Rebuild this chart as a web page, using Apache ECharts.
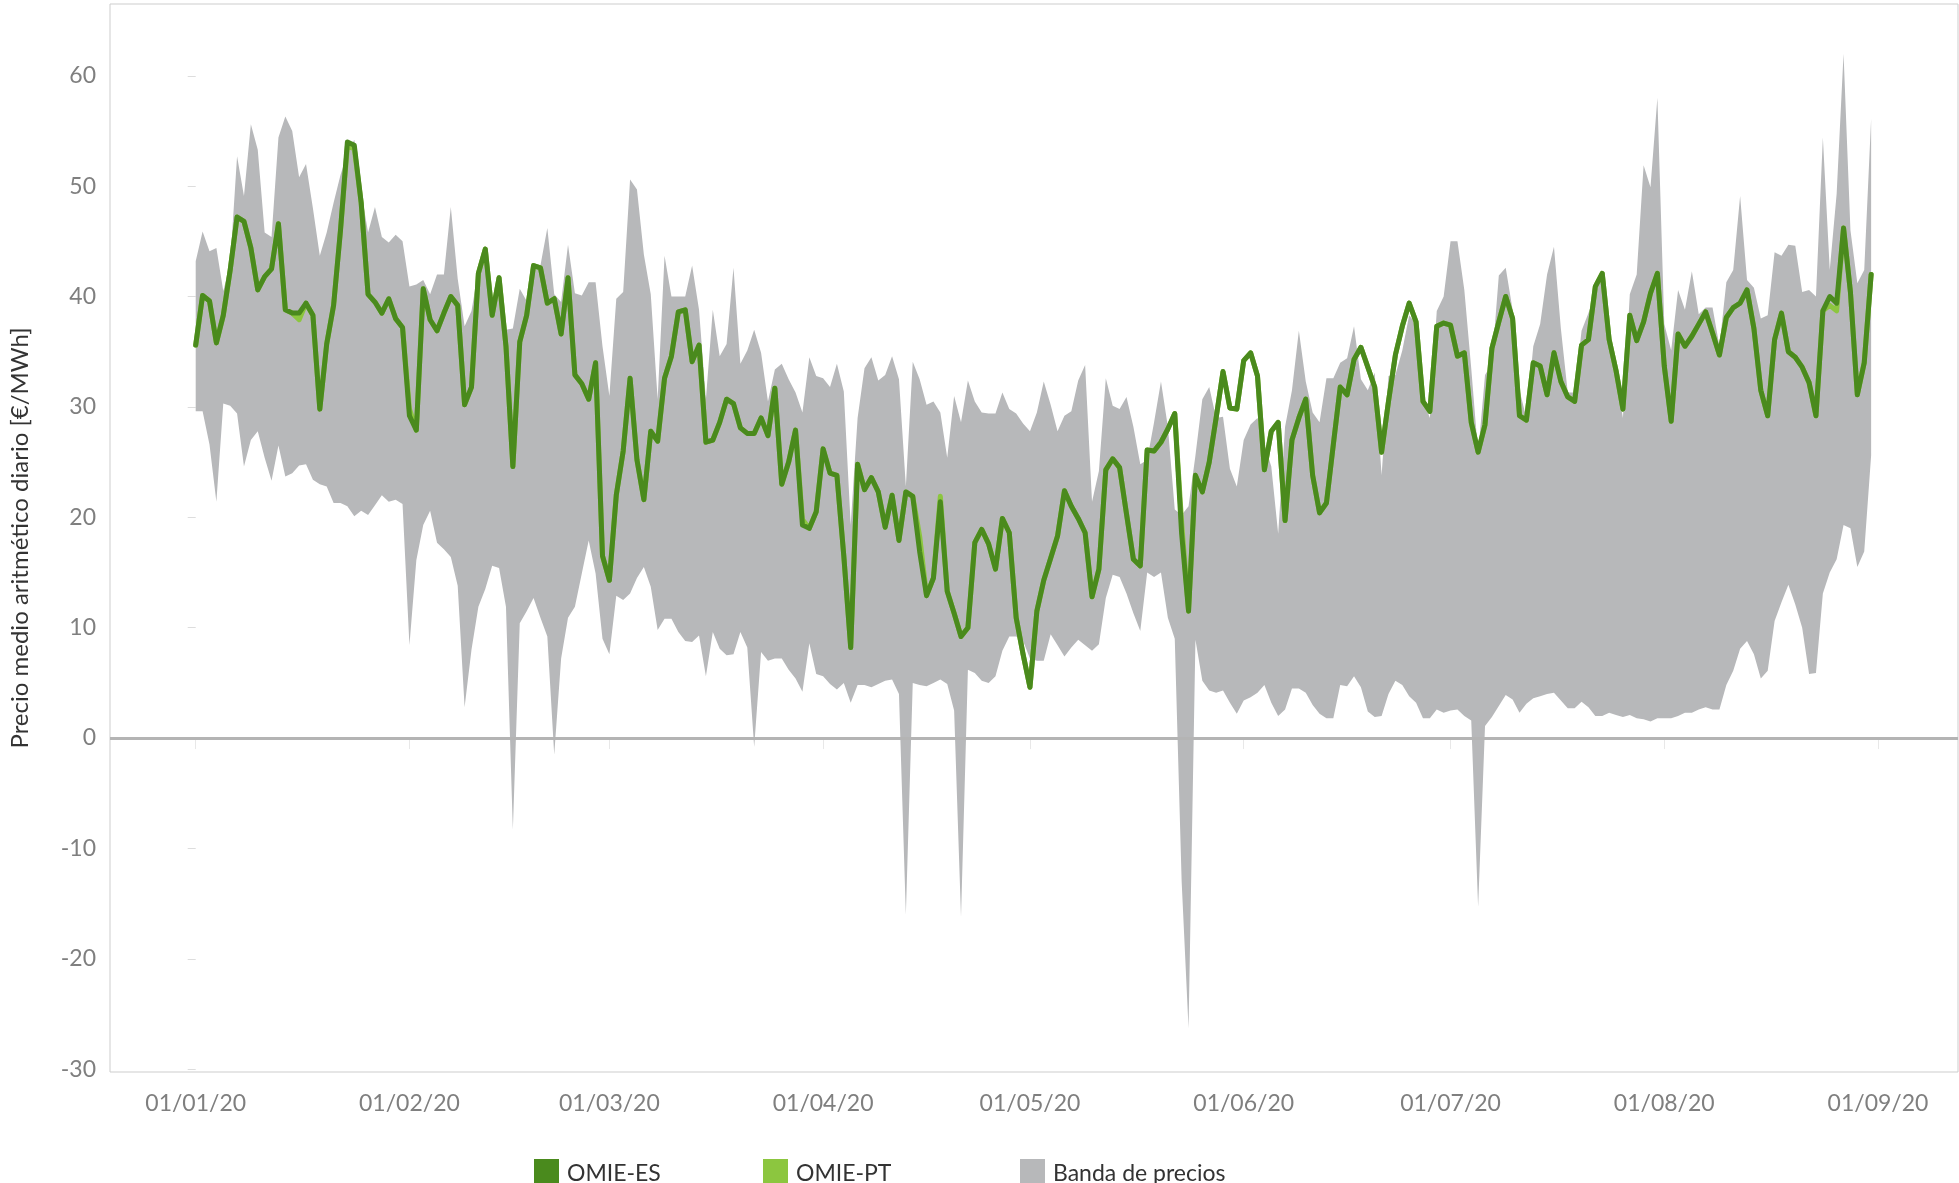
<!DOCTYPE html>
<html lang="es">
<head>
<meta charset="utf-8">
<title>Precio medio aritmético diario OMIE 2020</title>
<script src="https://cdn.jsdelivr.net/npm/echarts@6/dist/echarts.min.js"></script>
<style>
  html, body { margin: 0; padding: 0; background: #ffffff; }
  #chart { width: 1959px; height: 1183px; }
</style>
</head>
<body>
<div id="chart"></div>
<script>
// Daily values from 01/01/2020 (index 0) to 31/08/2020 (index 243), €/MWh

const omieES = [
  35.6, 40.1, 39.6, 35.8, 38.3, 42.4, 47.2, 46.8, 44.4, 40.6,
  41.8, 42.5, 46.6, 38.8, 38.5, 38.5, 39.4, 38.3, 29.8, 35.7,
  39.2, 46.0, 54.0, 53.7, 48.5, 40.2, 39.5, 38.5, 39.8, 38.0,
  37.2, 29.2, 27.9, 40.7, 37.9, 36.9, 38.5, 40.0, 39.2, 30.2,
  31.8, 42.1, 44.3, 38.3, 41.7, 35.5, 24.6, 35.9, 38.3, 42.8,
  42.6, 39.4, 39.8, 36.6, 41.7, 32.9, 32.1, 30.7, 34.0, 16.5,
  14.3, 22.0, 26.0, 32.6, 25.2, 21.6, 27.8, 26.9, 32.6, 34.6,
  38.6, 38.8, 34.1, 35.6, 26.8, 27.0, 28.6, 30.7, 30.3, 28.1,
  27.6, 27.6, 29.0, 27.4, 31.7, 23.0, 25.0, 27.9, 19.3, 19.0,
  20.5, 26.2, 24.0, 23.8, 16.5, 8.2, 24.8, 22.5, 23.6, 22.3,
  19.1, 22.0, 17.9, 22.3, 21.9, 16.9, 12.9, 14.5, 21.4, 13.3,
  11.3, 9.2, 10.0, 17.7, 18.9, 17.6, 15.3, 19.9, 18.6, 10.9,
  7.6, 4.6, 11.5, 14.3, 16.3, 18.3, 22.4, 21.0, 19.9, 18.6,
  12.8, 15.3, 24.3, 25.3, 24.5, 20.3, 16.2, 15.6, 26.1, 26.0,
  26.8, 28.0, 29.4, 18.5, 11.5, 23.8, 22.3, 25.0, 29.0, 33.2,
  29.9, 29.8, 34.2, 34.9, 32.8, 24.3, 27.8, 28.6, 19.7, 27.0,
  29.0, 30.7, 23.8, 20.4, 21.3, 26.6, 31.8, 31.1, 34.3, 35.4,
  33.6, 31.8, 25.9, 30.5, 34.7, 37.3, 39.4, 37.7, 30.5, 29.6,
  37.3, 37.6, 37.4, 34.6, 34.9, 28.6, 25.9, 28.4, 35.3, 37.7,
  40.0, 38.0, 29.2, 28.8, 34.0, 33.7, 31.1, 34.9, 32.3, 30.9,
  30.5, 35.6, 36.1, 40.9, 42.1, 36.1, 33.3, 29.8, 38.3, 36.0,
  37.7, 40.3, 42.1, 33.7, 28.7, 36.6, 35.5, 36.4, 37.5, 38.6,
  36.7, 34.7, 38.1, 39.0, 39.4, 40.6, 37.1, 31.5, 29.2, 36.1,
  38.5, 35.0, 34.5, 33.6, 32.2, 29.2, 38.7, 40.0, 39.4, 46.2,
  40.4, 31.1, 34.0, 42.0
];

const omiePT = [
  35.6, 40.1, 39.6, 35.8, 38.3, 42.4, 47.2, 46.8, 44.4, 40.6,
  41.8, 42.5, 46.6, 38.8, 38.5, 37.9, 39.4, 38.3, 29.8, 35.7,
  39.2, 46.0, 53.6, 53.4, 48.5, 40.2, 39.5, 38.5, 39.8, 38.0,
  37.2, 29.8, 27.9, 40.7, 37.9, 36.9, 38.5, 40.0, 39.2, 30.2,
  31.8, 42.1, 44.3, 38.3, 41.7, 35.5, 24.6, 35.9, 38.3, 42.8,
  42.6, 39.4, 39.8, 36.6, 41.7, 32.9, 32.1, 30.7, 34.0, 16.5,
  14.3, 22.0, 26.0, 32.6, 25.2, 21.6, 27.8, 26.9, 32.6, 34.6,
  38.6, 38.8, 34.1, 35.6, 26.8, 27.0, 28.6, 30.7, 30.3, 28.1,
  27.6, 27.6, 29.0, 27.4, 31.7, 23.0, 25.0, 27.9, 19.8, 19.0,
  20.5, 26.2, 24.0, 23.8, 16.5, 8.2, 24.8, 22.5, 23.6, 22.3,
  19.1, 22.0, 17.9, 22.3, 21.9, 18.3, 12.9, 14.5, 21.9, 13.3,
  11.3, 9.2, 10.0, 17.7, 18.9, 17.6, 15.3, 19.9, 18.6, 10.9,
  7.6, 4.6, 11.5, 14.3, 16.3, 18.3, 22.4, 21.0, 19.9, 18.6,
  12.8, 15.3, 24.3, 25.3, 24.5, 20.3, 16.2, 15.6, 26.1, 26.0,
  26.8, 28.0, 29.4, 19.5, 11.5, 23.8, 22.3, 25.0, 29.0, 33.2,
  29.9, 29.8, 34.2, 34.9, 32.8, 24.3, 27.8, 28.6, 19.7, 27.0,
  29.0, 30.7, 23.8, 20.4, 21.3, 26.6, 31.8, 31.1, 34.3, 35.4,
  33.6, 31.8, 25.9, 30.5, 34.7, 37.3, 39.4, 37.7, 30.5, 29.6,
  37.3, 37.6, 37.4, 34.6, 34.9, 28.6, 25.9, 28.4, 35.3, 37.7,
  40.0, 38.0, 29.2, 28.8, 34.0, 33.7, 31.1, 34.9, 32.3, 30.9,
  30.5, 35.6, 36.1, 40.9, 42.1, 36.1, 33.3, 29.8, 38.3, 36.0,
  37.7, 40.3, 42.1, 33.7, 28.7, 36.6, 35.5, 36.4, 37.5, 38.6,
  36.7, 34.7, 38.1, 39.0, 39.4, 40.6, 37.1, 31.5, 29.2, 36.1,
  38.5, 35.0, 34.5, 33.6, 32.2, 29.2, 38.7, 39.2, 38.7, 46.2,
  40.4, 31.1, 34.0, 42.0
];

// Upper edge of the price band
const bandaMax = [
  43.2, 45.9, 44.1, 44.4, 40.5, 43.0, 52.7, 49.1, 55.6, 53.3,
  45.8, 45.4, 54.4, 56.3, 55.0, 50.8, 52.0, 48.0, 43.7, 45.8,
  48.5, 51.0, 53.0, 54.2, 49.5, 45.8, 48.1, 45.4, 44.9, 45.6,
  45.0, 40.9, 41.1, 41.5, 40.2, 42.0, 42.0, 48.1, 41.6, 37.3,
  38.7, 42.4, 44.6, 39.5, 42.0, 37.0, 37.1, 40.7, 39.6, 43.0,
  42.8, 46.2, 40.2, 39.5, 44.7, 40.3, 40.1, 41.3, 41.3, 35.5,
  31.0, 39.8, 40.4, 50.6, 49.7, 43.8, 40.2, 30.7, 43.7, 40.0,
  40.0, 40.0, 42.8, 38.8, 30.7, 38.8, 34.6, 35.7, 42.6, 33.9,
  35.1, 37.0, 34.9, 30.5, 33.4, 33.9, 32.5, 31.3, 29.5, 34.5,
  32.8, 32.6, 31.8, 33.9, 31.4, 19.3, 29.0, 33.5, 34.5, 32.4,
  32.9, 34.6, 32.5, 22.8, 34.1, 32.5, 30.2, 30.5, 29.5, 25.4,
  31.0, 28.6, 32.4, 30.5, 29.5, 29.4, 29.4, 31.3, 29.8, 29.4,
  28.5, 27.8, 29.5, 32.3, 30.2, 27.8, 29.2, 29.6, 32.4, 33.8,
  21.4, 24.2, 32.6, 30.1, 29.8, 30.9, 28.2, 24.8, 25.2, 28.6,
  32.3, 28.2, 20.7, 20.2, 21.0, 25.6, 30.7, 31.8, 29.0, 29.1,
  24.4, 22.8, 27.0, 28.4, 29.0, 26.6, 24.6, 18.5, 28.2, 31.5,
  36.9, 32.3, 29.5, 28.6, 32.6, 32.6, 34.0, 34.4, 37.3, 32.5,
  31.5, 33.1, 23.8, 32.8, 32.9, 35.1, 38.3, 37.5, 30.7, 29.0,
  38.7, 40.0, 45.0, 45.0, 40.6, 33.5, 25.8, 32.9, 33.9, 41.9,
  42.6, 38.8, 31.5, 29.0, 35.5, 37.5, 42.0, 44.5, 37.1, 31.3,
  31.3, 36.9, 38.5, 40.2, 42.0, 36.7, 32.9, 29.0, 40.2, 42.0,
  51.9, 49.9, 58.0, 37.5, 35.1, 40.6, 38.8, 42.3, 38.4, 39.0,
  39.0, 35.5, 41.3, 42.4, 49.1, 41.5, 40.8, 38.0, 38.3, 44.0,
  43.7, 44.7, 44.6, 40.4, 40.6, 40.0, 54.4, 42.4, 49.3, 62.0,
  46.0, 41.2, 42.4, 56.1
];

// Lower edge of the price band
const bandaMin = [
  29.6, 29.6, 26.6, 21.4, 30.3, 30.1, 29.4, 24.6, 27.0, 27.8,
  25.4, 23.3, 26.5, 23.7, 24.0, 24.7, 24.8, 23.4, 23.0, 22.8,
  21.3, 21.3, 21.0, 20.1, 20.6, 20.2, 21.1, 22.0, 21.4, 21.6,
  21.2, 8.4, 16.1, 19.3, 20.6, 17.7, 17.1, 16.4, 13.8, 2.8,
  8.0, 11.9, 13.5, 15.6, 15.4, 11.9, -8.3, 10.4, 11.5, 12.7,
  10.9, 9.2, -1.5, 7.2, 10.9, 11.9, 14.9, 17.9, 14.9, 9.0,
  7.6, 12.9, 12.5, 13.1, 14.5, 15.5, 13.7, 9.8, 10.8, 10.8,
  9.6, 8.8, 8.7, 9.3, 5.6, 9.6, 8.1, 7.5, 7.6, 9.6,
  8.2, -0.8, 7.8, 7.0, 7.2, 7.2, 6.2, 5.4, 4.2, 8.6,
  5.8, 5.6, 4.9, 4.4, 5.0, 3.2, 4.8, 4.8, 4.6, 4.9,
  5.2, 5.3, 4.0, -16.0, 5.0, 4.8, 4.7, 5.0, 5.3, 4.9,
  2.5, -16.2, 6.2, 5.9, 5.2, 5.0, 5.6, 7.9, 9.2, 9.2,
  8.8, 7.2, 7.0, 7.0, 9.4, 8.4, 7.4, 8.2, 8.9, 8.4,
  7.9, 8.5, 12.7, 14.8, 14.6, 13.1, 11.3, 9.7, 15.0, 14.6,
  15.0, 10.9, 9.0, -13.0, -26.3, 8.9, 5.2, 4.3, 4.1, 4.3,
  3.2, 2.2, 3.4, 3.7, 4.1, 4.8, 3.2, 2.0, 2.6, 4.5,
  4.5, 4.1, 3.0, 2.2, 1.8, 1.8, 4.8, 4.7, 5.6, 4.6,
  2.4, 1.9, 2.0, 4.0, 5.2, 4.8, 3.8, 3.2, 1.8, 1.8,
  2.6, 2.3, 2.5, 2.6, 2.0, 1.6, -15.3, 1.1, 1.9, 2.9,
  3.9, 3.5, 2.3, 3.1, 3.6, 3.8, 4.0, 4.1, 3.4, 2.7,
  2.7, 3.3, 2.8, 2.0, 2.0, 2.3, 2.1, 1.9, 2.1, 1.8,
  1.7, 1.5, 1.8, 1.8, 1.8, 2.0, 2.3, 2.3, 2.6, 2.8,
  2.6, 2.6, 4.8, 6.1, 8.1, 8.8, 7.6, 5.4, 6.1, 10.6,
  12.3, 13.9, 12.1, 10.0, 5.8, 5.9, 13.1, 15.0, 16.2, 19.3,
  19.0, 15.5, 16.9, 25.6
];

// Axis ticks: day offsets of the first of each month and their labels
const tickDays = [0, 31, 60, 91, 121, 152, 182, 213, 244];
const tickLabels = ['01/01/20', '01/02/20', '01/03/20', '01/04/20', '01/05/20',
                    '01/06/20', '01/07/20', '01/08/20', '01/09/20'];
const yTicks = [-30, -20, -10, 0, 10, 20, 30, 40, 50, 60];

const seriesNames = ['OMIE-ES', 'OMIE-PT', 'Banda de precios'];
const colES = '#4a8a1d';
const colPT = '#8cc63f';
const colBand = '#b7b8ba';

const FONT = 'Lato';

const withDay = arr => arr.map((v, i) => [i, v]);
const bandData = bandaMax.map((v, i) => [i, bandaMin[i], v]);

// One filled polygon for the whole band: upper edge left-to-right, lower edge back
function renderBand(params, api) {
  if (params.dataIndexInside !== 0) return null;
  const n = params.dataInsideLength;
  const upper = [], lower = [];
  for (let k = 0; k < n; k++) {
    const x = api.value(0, k);
    upper.push(api.coord([x, api.value(2, k)]));
    lower.push(api.coord([x, api.value(1, k)]));
  }
  return {
    type: 'polygon',
    shape: { points: upper.concat(lower.reverse()) },
    style: { fill: colBand, stroke: null }
  };
}

const chart = echarts.init(document.getElementById('chart'), null, { renderer: 'canvas' });

const legendBase = {
  top: 1154,
  orient: 'horizontal',
  icon: 'rect',
  itemWidth: 25,
  itemHeight: 30,
  selectedMode: false,
  textStyle: { fontFamily: FONT, fontSize: 23, color: '#333333', padding: [0, 0, 0, 3] }
};

chart.setOption({
  animation: false,
  backgroundColor: '#ffffff',
  grid: {
    left: 104, right: 1, top: 4, bottom: 111,
    show: true, borderColor: '#cdcdcd', borderWidth: 1,
    backgroundColor: 'transparent'
  },
  legend: [
    Object.assign({}, legendBase, { left: 529, data: [{ name: seriesNames[0], itemStyle: { color: colES } }] }),
    Object.assign({}, legendBase, { left: 758, data: [{ name: seriesNames[1], itemStyle: { color: colPT } }] }),
    Object.assign({}, legendBase, { left: 1015, data: [{ name: seriesNames[2], itemStyle: { color: colBand } }] })
  ],
  xAxis: {
    type: 'value',
    min: -12.43,
    max: 255.6,
    axisLine: { show: false },
    splitLine: { show: false },
    axisTick: {
      show: true, customValues: tickDays, length: 11,
      lineStyle: { color: '#e8e8e8', width: 1 }
    },
    axisLabel: {
      customValues: tickDays,
      margin: 20,
      fontFamily: FONT, fontSize: 23, color: '#7f7f7f',
      formatter: v => tickLabels[tickDays.indexOf(v)] || ''
    }
  },
  yAxis: {
    type: 'value',
    min: -30.25,
    max: 66.5,
    name: 'Precio medio aritmético diario [€/MWh]',
    nameLocation: 'middle',
    nameRotate: 90,
    nameGap: 78,
    nameTextStyle: { fontFamily: FONT, fontSize: 24, color: '#333333' },
    axisLine: { show: false },
    splitLine: { show: false },
    axisTick: {
      show: true, customValues: yTicks, length: 8,
      lineStyle: { color: '#dddddd', width: 1 }
    },
    axisLabel: {
      customValues: yTicks,
      margin: 14,
      fontFamily: FONT, fontSize: 23, color: '#7f7f7f'
    }
  },
  series: [
    {
      name: seriesNames[2],
      type: 'custom',
      renderItem: renderBand,
      data: bandData,
      encode: { x: 0, y: [1, 2] },
      itemStyle: { color: colBand },
      silent: true,
      z: 1,
      markLine: {
        silent: true,
        symbol: ['none', 'none'],
        label: { show: false },
        lineStyle: { color: '#b4b4b4', width: 3, type: 'solid', opacity: 1 },
        data: [{ yAxis: 0 }]
      }
    },
    {
      name: seriesNames[1],
      type: 'line',
      data: withDay(omiePT),
      symbol: 'none',
      itemStyle: { color: colPT },
      lineStyle: { color: colPT, width: 5, join: 'round', cap: 'round' },
      z: 3
    },
    {
      name: seriesNames[0],
      type: 'line',
      data: withDay(omieES),
      symbol: 'none',
      itemStyle: { color: colES },
      lineStyle: { color: colES, width: 5, join: 'round', cap: 'round' },
      z: 4
    }
  ]
});
</script>
</body>
</html>
